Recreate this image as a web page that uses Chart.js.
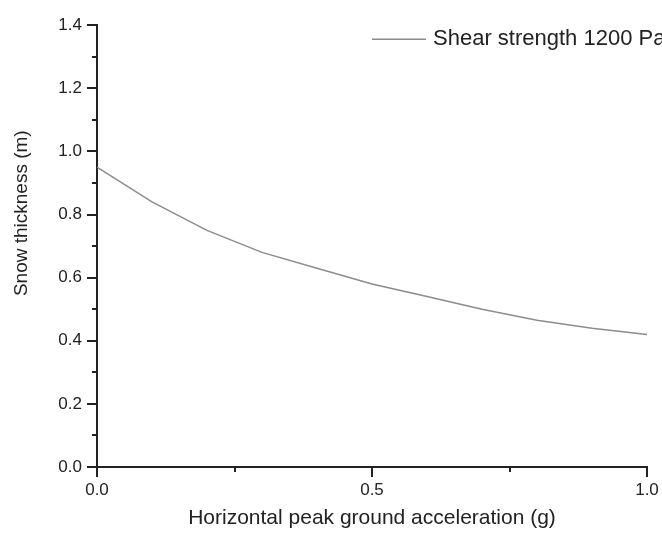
<!DOCTYPE html>
<html>
<head>
<meta charset="utf-8">
<script src="https://cdn.jsdelivr.net/npm/chart.js@4.4.1/dist/chart.umd.min.js"></script>
<style>
  html, body { margin: 0; padding: 0; background: #fff; overflow: hidden; }
  #wrap { width: 662px; height: 533px; }
</style>
</head>
<body>
<div id="wrap"><canvas id="chart"></canvas></div>
<script>
// horizontal PGA (g) vs. snow thickness (m)
const accel = [0, 0.1, 0.2, 0.3, 0.4, 0.5, 0.6, 0.7, 0.8, 0.9, 1.0];
const thickness = [0.95, 0.84, 0.75, 0.68, 0.63, 0.58, 0.54, 0.50, 0.465, 0.44, 0.42];
const seriesLabel = "Shear strength 1200 Pa";

// labelled (major) ticks; the rest are minor
const xTickLabels = [0, 0.5, 1.0];
const yTickLabels = [0, 0.2, 0.4, 0.6, 0.8, 1.0, 1.2, 1.4];

const fontFamily = "'Liberation Sans', Arial, sans-serif";
const axisColor = "#222";
const lineColor = "#8c8c8c";

const isMajor = (v, list) => list.some(m => Math.abs(m - v) < 1e-6);

// outward tick marks, long for labelled ticks and short for minor ones
const tickMarks = {
    id: "tickMarks",
    afterDraw(chart) {
        const { ctx, scales: { x, y } } = chart;
        ctx.save();
        ctx.strokeStyle = axisColor;
        ctx.lineWidth = 2;
        ctx.beginPath();
        x.ticks.forEach(t => {
            const px = Math.round(x.getPixelForValue(t.value));
            const len = isMajor(t.value, xTickLabels) ? 10 : 5;
            ctx.moveTo(px, x.top);
            ctx.lineTo(px, x.top + len);
        });
        y.ticks.forEach(t => {
            const py = Math.round(y.getPixelForValue(t.value));
            const len = isMajor(t.value, yTickLabels) ? 10 : 5;
            ctx.moveTo(y.right, py);
            ctx.lineTo(y.right - len, py);
        });
        ctx.stroke();
        ctx.restore();
    }
};

// legend sits inside the plot, top right
const insideLegend = {
    id: "insideLegend",
    afterDraw(chart) {
        const { ctx, chartArea } = chart;
        const ds = chart.data.datasets[0];
        const ly = chartArea.top + 14;
        const lx = chartArea.left + 275;
        ctx.save();
        ctx.strokeStyle = ds.borderColor;
        ctx.lineWidth = 1.5;
        ctx.beginPath();
        ctx.moveTo(lx, ly);
        ctx.lineTo(lx + 54, ly);
        ctx.stroke();
        ctx.fillStyle = axisColor;
        ctx.font = "22px " + fontFamily;
        ctx.textBaseline = "middle";
        ctx.fillText(ds.label, lx + 61, ly);
        ctx.restore();
    }
};

// y axis title, drawn a little above the axis centre
const yTitle = {
    id: "yTitle",
    afterDraw(chart) {
        const { ctx, chartArea } = chart;
        ctx.save();
        ctx.translate(22, chartArea.top + 188);
        ctx.rotate(-Math.PI / 2);
        ctx.fillStyle = axisColor;
        ctx.font = "19px " + fontFamily;
        ctx.textAlign = "center";
        ctx.textBaseline = "middle";
        ctx.fillText("Snow thickness (m)", 0, 0);
        ctx.restore();
    }
};

const ctx = document.getElementById("chart").getContext("2d");

new Chart(ctx, {
    type: "line",
    data: {
        datasets: [
            {
                label: seriesLabel,
                data: accel.map((a, i) => ({ x: a, y: thickness[i] })),
                borderColor: lineColor,
                borderWidth: 1.5,
                pointRadius: 0,
                tension: 0,
                fill: false
            }
        ]
    },
    options: {
        responsive: true,
        maintainAspectRatio: false,
        animation: false,
        layout: {
            padding: { top: 23, right: 15, left: 0, bottom: 0 }
        },
        plugins: {
            legend: { display: false },
            tooltip: { enabled: false }
        },
        scales: {
            x: {
                type: "linear",
                min: 0,
                max: 1,
                grid: { display: false, drawTicks: false },
                border: { display: true, color: axisColor, width: 2 },
                ticks: {
                    stepSize: 0.25,
                    autoSkip: false,
                    maxRotation: 0,
                    padding: 13,
                    color: axisColor,
                    font: { family: fontFamily, size: 17 },
                    callback: v => isMajor(v, xTickLabels) ? v.toFixed(1) : ""
                },
                title: {
                    display: true,
                    text: "Horizontal peak ground acceleration (g)",
                    color: axisColor,
                    font: { family: fontFamily, size: 21 },
                    padding: { top: 0, bottom: 2 }
                },
                afterFit(scale) {
                    scale.height = 66;
                    // let the last label run to the canvas edge
                    scale.paddingRight = 0;
                }
            },
            y: {
                min: 0,
                max: 1.4,
                grid: { display: false, drawTicks: false },
                border: { display: true, color: axisColor, width: 2 },
                ticks: {
                    stepSize: 0.1,
                    autoSkip: false,
                    padding: 15,
                    color: axisColor,
                    font: { family: fontFamily, size: 17 },
                    callback: v => isMajor(v, yTickLabels) ? v.toFixed(1) : ""
                },
                afterFit(scale) { scale.width = 97; }
            }
        }
    },
    plugins: [tickMarks, insideLegend, yTitle]
});
</script>
</body>
</html>
